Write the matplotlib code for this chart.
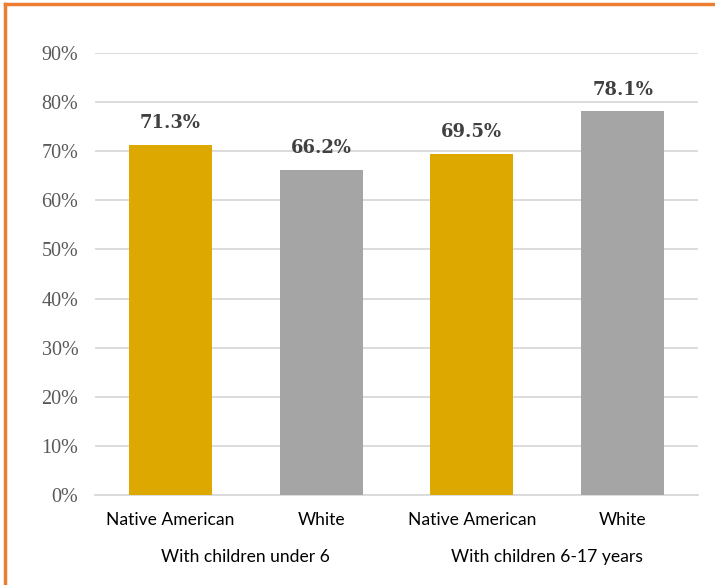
import matplotlib.pyplot as plt
from matplotlib.lines import Line2D
from matplotlib.ticker import FuncFormatter

groups = ["With children under 6", "With children 6-17 years"]
races = ["Native American", "White", "Native American", "White"]
shares = [71.3, 66.2, 69.5, 78.1]
bar_colors = ["#DDA800", "#A5A5A5", "#DDA800", "#A5A5A5"]

fig = plt.figure(figsize=(7.15, 5.85), dpi=100)
ax = fig.add_axes([95 / 715, 90 / 585, 603 / 715, 442 / 585])

x = range(len(shares))
bars = ax.bar(x, shares, width=0.55, color=bar_colors, zorder=3)

for rect, v in zip(bars, shares):
    ax.annotate(f"{v:.1f}%", (rect.get_x() + rect.get_width() / 2, v),
                xytext=(0, 9), textcoords="offset points",
                ha="center", va="bottom", fontsize=13, fontweight="bold",
                family="DejaVu Serif", color="#404040")

ax.set_xlim(-0.5, len(shares) - 0.5)
ax.set_ylim(0, 90)
ax.set_yticks(range(0, 91, 10))
ax.yaxis.set_major_formatter(FuncFormatter(lambda v, _: f"{v:.0f}%"))
ax.yaxis.grid(True, color="#D9D9D9", linewidth=1.3, zorder=0)

ax.set_xticks(list(x))
ax.set_xticklabels(races, family="Lato", fontsize=12.6, color="#000000")
for lbl in ax.get_yticklabels():
    lbl.set_family("Liberation Serif")
    lbl.set_fontsize(14.5)
    lbl.set_color("#595959")
ax.tick_params(axis="both", length=0)
ax.tick_params(axis="y", pad=12)
ax.tick_params(axis="x", pad=12)

for side in ["top", "right", "left"]:
    ax.spines[side].set_visible(False)
ax.spines["bottom"].set_color("#D9D9D9")
ax.spines["bottom"].set_linewidth(1.3)

# group captions under each pair of bars
for i, g in enumerate(groups):
    ax.text(2 * i + 0.5, -0.14, g, transform=ax.get_xaxis_transform(),
            ha="center", va="center", family="Lato", fontsize=12.6)

# orange frame along the top and left edges
fig.add_artist(Line2D([5 / 715, 1], [1 - 4 / 585, 1 - 4 / 585],
                      transform=fig.transFigure, color="#ED7D31", linewidth=2.5))
fig.add_artist(Line2D([5 / 715, 5 / 715], [0, 1 - 4 / 585],
                      transform=fig.transFigure, color="#ED7D31", linewidth=2.5))

fig.savefig("out.png", dpi=100)
